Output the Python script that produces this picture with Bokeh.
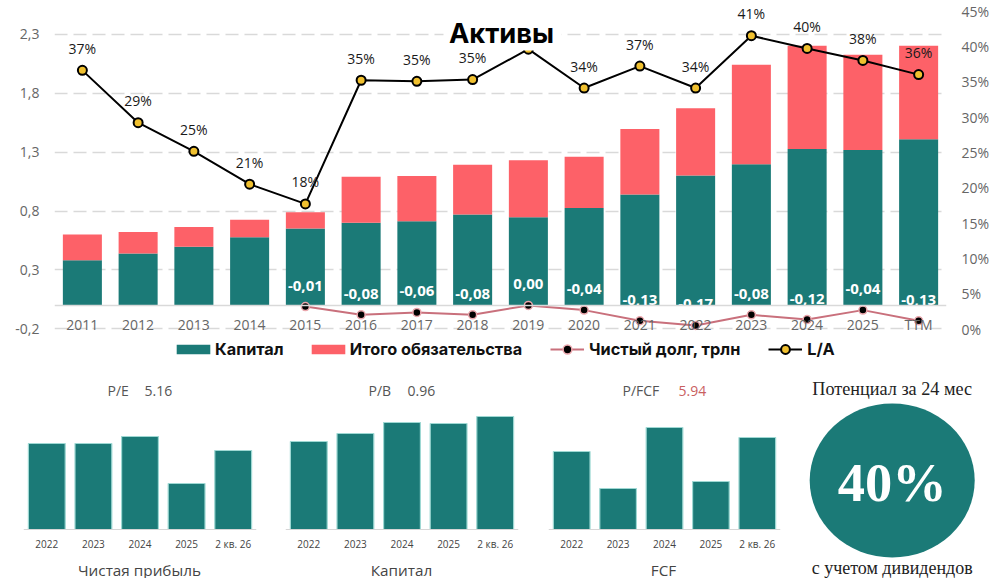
from bokeh.plotting import figure
from bokeh.layouts import column, row
from bokeh.models import (ColumnDataSource, FactorRange, Range1d, LinearAxis, CategoricalAxis,
                          FixedTicker, Span, Label, Legend, LegendItem, BoxAnnotation)
from bokeh.core.properties import value
from bokeh.embed import file_html
from bokeh.resources import INLINE

# ---------- data ----------
years = ["2011","2012","2013","2014","2015","2016","2017","2018","2019","2020","2021","2022","2023","2024","2025","TTM"]
capital = [0.383,0.439,0.496,0.578,0.651,0.700,0.713,0.770,0.747,0.826,0.939,1.100,1.196,1.326,1.318,1.408]
liabilities = [0.217,0.184,0.169,0.147,0.139,0.390,0.384,0.423,0.483,0.434,0.557,0.570,0.844,0.874,0.807,0.792]
la_values = [36.6,29.2,25.15,20.5,17.7,35.2,35.05,35.3,39.6,34.1,37.2,34.1,41.5,39.7,38.0,36.0]
la_label_years = ["2011","2012","2013","2014","2015","2016","2017","2018","2020","2021","2022","2023","2024","2025","TTM"]
la_label_values = [36.6,29.2,25.15,20.5,17.7,35.2,35.05,35.3,34.1,37.2,34.1,41.5,39.7,38.0,36.0]
la_labels = ["37%","29%","25%","21%","18%","35%","35%","35%","34%","37%","34%","41%","40%","38%","36%"]
debt_years = ["2015","2016","2017","2018","2019","2020","2021","2022","2023","2024","2025","TTM"]
net_debt = [-0.01,-0.08,-0.06,-0.08,0.00,-0.04,-0.13,-0.17,-0.08,-0.12,-0.04,-0.13]
net_debt_labels = ["-0,01","-0,08","-0,06","-0,08","0,00","-0,04","-0,13","-0,17","-0,08","-0,12","-0,04","-0,13"]
left_ticks = [-0.2,0.3,0.8,1.3,1.8,2.3]
left_labels = ["-0,2","0,3","0,8","1,3","1,8","2,3"]
right_ticks = [0,5,10,15,20,25,30,35,40,45]

small_cats = ["2022","2023","2024","2025","2 кв. 26"]
net_profit = [86,86,93,46,79]
equity = [88,96,107,106,113]
fcf = [78,41,102,48,92]

TEAL = "#1b7a77"
RED = "#fd6168"
GOLD = "#f0c02f"
ROSE = "#c9707c"
GRID = "#d9d9d9"
TICK = "#666666"
FONT = "Open Sans"
SERIF = "Liberation Serif"

# ---------- main chart ----------
main = figure(width=1000, height=360, output_backend="svg", toolbar_location=None,
              x_range=FactorRange(factors=years, range_padding=0),
              y_range=Range1d(-0.467, 2.584),
              min_border_left=54, min_border_right=54, min_border_top=0, min_border_bottom=0,
              outline_line_color=None, x_axis_location=None, y_axis_location="left")
main.extra_y_ranges = {"pct": Range1d(-4.457, 46.486)}

main.ygrid.ticker = FixedTicker(ticks=left_ticks)
main.ygrid.grid_line_color = GRID
main.ygrid.grid_line_width = 1.5
main.ygrid.grid_line_dash = [13, 6]
main.xgrid.visible = False

ax = main.yaxis[0]
ax.ticker = FixedTicker(ticks=left_ticks)
ax.major_label_overrides = dict(zip(left_ticks, left_labels))
ax.axis_line_color = None
ax.major_tick_line_color = None
ax.minor_tick_line_color = None
ax.major_tick_out = 0
ax.major_tick_in = 0
ax.major_label_standoff = 15
ax.major_label_text_font = FONT
ax.major_label_text_font_size = "14px"
ax.major_label_text_color = TICK

rax = LinearAxis(y_range_name="pct", ticker=FixedTicker(ticks=right_ticks),
                 major_label_overrides={t: f"{t}%" for t in right_ticks},
                 axis_line_color=None, major_tick_line_color=None, minor_tick_line_color=None,
                 major_tick_out=0, major_tick_in=0,
                 major_label_standoff=15, major_label_text_font=FONT,
                 major_label_text_font_size="14px", major_label_text_color=TICK)
main.add_layout(rax, "right")

cax = CategoricalAxis(fixed_location=-0.073, axis_line_color=None, major_tick_line_color=None,
                      minor_tick_line_color=None, major_tick_out=0, major_tick_in=0,
                      major_label_standoff=1,
                      major_label_text_font=FONT, major_label_text_font_size="14px",
                      major_label_text_color=TICK)
main.add_layout(cax, "below")

src = ColumnDataSource(dict(x=years, capital=capital, liabilities=liabilities, la=la_values))
bars = main.vbar_stack(["capital", "liabilities"], x="x", source=src, width=0.7,
                       color=[TEAL, RED], line_color=None)

debt_src = ColumnDataSource(dict(x=debt_years, y=net_debt, t=net_debt_labels))
debt_line = main.line("x", "y", source=debt_src, line_color=ROSE, line_width=2)
debt_pts = main.scatter("x", "y", source=debt_src, size=8, fill_color="#000000",
                        line_color="#eba7ad", line_width=1.5)
main.text("x", "y", text="t", source=debt_src, y_offset=-21, text_color="#ffffff",
          text_font=value(FONT), text_font_style="bold", text_font_size="15px",
          text_align="center", text_baseline="middle")
main.add_layout(Span(location=0, dimension="width", line_color=GRID, line_width=1.5))

la_line = main.line("x", "la", source=src, y_range_name="pct", line_color="#000000", line_width=2)
la_pts = main.scatter("x", "la", source=src, y_range_name="pct", size=9, fill_color=GOLD,
                      line_color="#000000", line_width=2)
la_label_src = ColumnDataSource(dict(x=la_label_years, y=la_label_values, t=la_labels))
main.text("x", "y", text="t", source=la_label_src, y_range_name="pct", y_offset=-22,
          text_color="#1a1a1a", text_font=value(FONT), text_font_size="14px",
          text_align="center", text_baseline="middle")

# white plate behind the title hides the 2019 peak, as in the reference
main.add_layout(BoxAnnotation(left=389, right=507, left_units="screen", right_units="screen",
                              top=2.474, bottom=2.16, fill_color="#ffffff", fill_alpha=1,
                              line_color=None, level="annotation"))
main.add_layout(Label(x=447, y=327, x_units="screen", y_units="screen", text="Активы",
                      text_font="Inter", text_font_style="bold", text_font_size="27.3px",
                      text_color="#000000", text_align="center", text_baseline="middle"))

legend_style = dict(orientation="horizontal", padding=0, margin=0,
                    label_height=22, label_text_font="Inter", label_text_font_style="bold",
                    label_text_font_size="16.3px", label_text_color="#111111",
                    background_fill_alpha=0, border_line_color=None)
main.add_layout(Legend(items=[LegendItem(label="Капитал", renderers=[bars[0]]),
                              LegendItem(label="Итого обязательства", renderers=[bars[1]])],
                       location=(118, 0), glyph_width=42, glyph_height=12, label_standoff=1,
                       spacing=23, **legend_style), "center")
main.add_layout(Legend(items=[LegendItem(label="Чистый долг, трлн", renderers=[debt_line, debt_pts]),
                              LegendItem(label="L/A", renderers=[la_line, la_pts])],
                       location=(496, 0), glyph_width=34, glyph_height=22, label_standoff=5,
                       spacing=28, **legend_style), "center")


# ---------- small charts ----------
def small(values, width, left, right, title, bottom_title, title_dx, value_text, value_dx, bottom_x, value_color="#555555"):
    p = figure(width=width, height=218, output_backend="svg", toolbar_location=None,
               x_range=FactorRange(factors=small_cats, range_padding=0),
               y_range=Range1d(-49, 169), min_border_left=left, min_border_right=right,
               min_border_top=0, min_border_bottom=0, outline_line_color=None,
               x_axis_location=None, y_axis_location=None)
    p.grid.visible = False
    a = CategoricalAxis(fixed_location=0, axis_line_color="#d6d6d6", axis_line_width=1,
                        major_tick_line_color=None, minor_tick_line_color=None,
                        major_tick_out=0, major_tick_in=0, major_label_standoff=7,
                        major_label_text_font=FONT, major_label_text_font_size="10px",
                        major_label_text_color="#444444")
    p.add_layout(a, "below")
    p.vbar(x=small_cats, top=values, width=0.79, fill_color=TEAL, line_color="#9ed8d3", line_width=1.2)
    common = dict(x_units="screen", y_units="screen", text_font=FONT, text_baseline="middle", text_align="left")
    p.add_layout(Label(x=title_dx, y=188, text=title, text_font_size="14px", text_color="#555555", **common))
    p.add_layout(Label(x=value_dx, y=188, text=value_text, text_font_size="14px", text_color=value_color, **common))
    p.add_layout(Label(x=bottom_x, y=9, text=bottom_title, text_font_size="15.3px", text_color="#444444",
                       x_units="screen", y_units="screen", text_font=FONT, text_baseline="middle", text_align="center"))
    return p


p1 = small(net_profit, 268, 23, 12, "P/E", "Чистая прибыль", 84, "5.16", 121, 116)
p2 = small(equity, 260, 17, 10, "P/B", "Капитал", 83, "0.96", 122, 116)
p3 = small(fcf, 262, 20, 10, "P/FCF", "FCF", 74, "5.94", 130, 115, value_color="#c9605f")

p4 = figure(width=210, height=218, output_backend="svg", toolbar_location=None,
            x_range=Range1d(-101.7, 108.3), y_range=Range1d(-98, 120),
            min_border=0, outline_line_color=None, x_axis_location=None, y_axis_location=None)
p4.grid.visible = False
p4.ellipse(x=[0], y=[0], width=165, height=154, fill_color=TEAL, line_color=None)
p4.text(x=[0], y=[-2], text=["40%"], text_font=value(SERIF), text_font_style="bold", text_font_size="54.5px",
        text_color="#ffffff", text_align="center", text_baseline="middle")
p4.text(x=[0], y=[92], text=["Потенциал за 24 мес"], text_font=value(SERIF), text_font_size="18.2px",
        text_color="#222222", text_align="center", text_baseline="middle")
p4.text(x=[0], y=[-87], text=["с учетом дивидендов"], text_font=value(SERIF), text_font_size="18px",
        text_color="#222222", text_align="center", text_baseline="middle")

page = column(main, row(p1, p2, p3, p4, spacing=0), spacing=0)
open("out.html", "w").write(file_html(page, INLINE))
